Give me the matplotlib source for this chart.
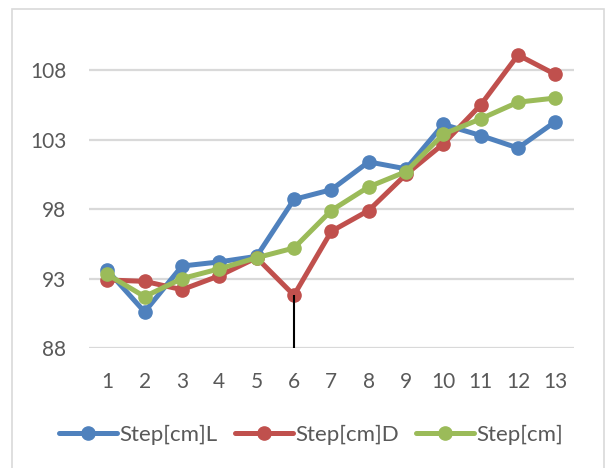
import matplotlib
matplotlib.use("Agg")
import matplotlib.pyplot as plt
from matplotlib.patches import Rectangle

categories = list(range(1, 14))
step_L = [93.6, 90.6, 93.9, 94.2, 94.6, 98.7, 99.4, 101.4, 100.9, 104.1, 103.3, 102.4, 104.3]
step_D = [92.9, 92.8, 92.2, 93.2, 94.5, 91.8, 96.4, 97.9, 100.5, 102.7, 105.5, 109.1, 107.7]
step_M = [93.3, 91.7, 93.0, 93.7, 94.5, 95.2, 97.9, 99.6, 100.7, 103.4, 104.5, 105.7, 106.0]
yticks = [88, 93, 98, 103, 108]
series_names = ["Step[cm]L", "Step[cm]D", "Step[cm]"]
colors = ["#4F81BD", "#C0504D", "#9BBB59"]

plt.rcParams['font.family'] = ['Lato', 'DejaVu Sans']

fig = plt.figure(figsize=(6.14, 4.68), dpi=100)
fig.patches.append(Rectangle((12/614, -0.1), (604-12)/614, 1.1 - 9/468,
                             transform=fig.transFigure, fill=False,
                             edgecolor="#D9D9D9", linewidth=1.2))
ax = fig.add_axes([0.1443, 0.2564, 0.7906, 0.7122])

for vals, name, c in zip([step_L, step_D, step_M], series_names, colors):
    ax.plot(categories, vals, color=c, linewidth=3.6, marker='o',
            markersize=9.5, label=name, solid_capstyle='round')

ax.vlines(6, 88, step_D[5], color='black', linewidth=1.5, zorder=5)

ax.set_xlim(0.5, 13.5)
ax.set_ylim(88, 112)
ax.set_yticks(yticks)
ax.set_xticks(categories)
ax.yaxis.grid(True, color="#D9D9D9", linewidth=1.6)
ax.set_axisbelow(True)
for s in ax.spines.values():
    s.set_visible(False)
ax.tick_params(axis='both', length=0, labelsize=15, labelcolor="#595959")
ax.tick_params(axis='x', pad=17)
ax.tick_params(axis='y', pad=16)

fig.legend(loc='center', bbox_to_anchor=(0.5065, 0.0705), ncol=3, frameon=False,
           fontsize=16, handlelength=2.6, handletextpad=0.1, columnspacing=0.8,
           labelcolor="#595959")

fig.savefig("out.png", dpi=100)
